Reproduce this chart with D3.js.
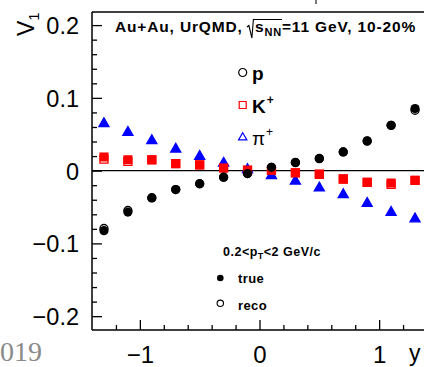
<!DOCTYPE html>
<html>
<head>
<meta charset="utf-8">
<script src="https://cdn.jsdelivr.net/npm/d3@7"></script>
<style>
  html, body { margin: 0; padding: 0; background: #fff; }
  svg { display: block; font-family: "Liberation Sans", Arial, Helvetica, sans-serif; }
</style>
</head>
<body>
<svg id="chart" width="424" height="367"></svg>
<script>
// Rapidity bins (bin centres)
const rapidity = [-1.3, -1.1, -0.9, -0.7, -0.5, -0.3, -0.1, 0.1, 0.3, 0.5, 0.7, 0.9, 1.1, 1.3];

// Directed flow v1(y), UrQMD Au+Au 11 GeV, 10-20%
const protonTrue = [-0.0825, -0.057, -0.0376, -0.026, -0.018, -0.009, -0.004, 0.0045, 0.0115, 0.0168, 0.0257, 0.041, 0.0624, 0.0853];
const protonReco = [-0.0795, -0.0548, -0.0372, -0.026, -0.018, -0.009, -0.004, 0.0045, 0.011, 0.0165, 0.0257, 0.0405, 0.0622, 0.083];
const kaonTrue   = [0.0188, 0.015, 0.015, 0.0096, 0.0078, 0.0037, 0.0005, 0.0004, -0.003, -0.005, -0.0115, -0.016, -0.017, -0.0133];
const kaonReco   = [0.0158, 0.0128, 0.0148, 0.0096, 0.0078, 0.0037, 0.0005, 0.0004, -0.003, -0.005, -0.0115, -0.016, -0.0188, -0.0135];
const pionTrue   = [0.066, 0.054, 0.0426, 0.031, 0.021, 0.0115, 0.0028, -0.0055, -0.013, -0.0225, -0.0316, -0.0436, -0.056, -0.065];
const pionReco   = [0.066, 0.054, 0.0426, 0.031, 0.021, 0.0115, 0.0028, -0.0055, -0.013, -0.0225, -0.0316, -0.0436, -0.056, -0.065];

// Axis ticks
const xMajor = [-1, 0, 1];
const xMinor = [-1.2, -0.8, -0.6, -0.4, -0.2, 0.2, 0.4, 0.6, 0.8, 1.2];
const yMajor = [-0.2, -0.1, 0, 0.1, 0.2];
const yMinor = [-0.18, -0.16, -0.14, -0.12, -0.08, -0.06, -0.04, -0.02, 0.02, 0.04, 0.06, 0.08, 0.12, 0.14, 0.16, 0.18];
const xTickLabels = ["\u22121", "0", "1"];
const yTickLabels = ["\u22120.2", "\u22120.1", "0", "0.1", "0.2"];

const svg = d3.select("#chart");

const x = d3.scaleLinear().domain([-1.4, 1.4]).range([92, 427]);
const y = d3.scaleLinear().domain([-0.219, 0.218]).range([330, 12]);

const RED = "#ff0000", BLUE = "#0000ff", BLACK = "#000";
const SANS = "'Liberation Sans', Arial, Helvetica, sans-serif";

// Frame (left, top, bottom) and zero line
const frame = svg.append("g").attr("stroke", "#000").attr("stroke-width", 1.5).attr("fill", "none");
frame.append("line").attr("x1", x(-1.4)).attr("x2", x(-1.4)).attr("y1", y(0.218)).attr("y2", y(-0.219));
frame.append("line").attr("x1", x(-1.4)).attr("x2", x(1.4)).attr("y1", y(0.218)).attr("y2", y(0.218));
frame.append("line").attr("x1", x(-1.4)).attr("x2", x(1.4)).attr("y1", y(-0.219)).attr("y2", y(-0.219));
svg.append("line").attr("x1", x(-1.4)).attr("x2", x(1.4)).attr("y1", y(0)).attr("y2", y(0))
  .attr("stroke", "#000").attr("stroke-width", 1.3);

// Small stroke above the frame
svg.append("line").attr("x1", 316).attr("x2", 316).attr("y1", 0).attr("y2", 4)
  .attr("stroke", "#222").attr("stroke-width", 1.2);

// Y axis (ticks inside the frame)
const yAxisMajor = d3.axisLeft(y).tickValues(yMajor).tickSizeInner(-10).tickSizeOuter(0)
  .tickPadding(13).tickFormat((d, i) => yTickLabels[i]);
const gy = svg.append("g").attr("transform", `translate(${x(-1.4)},0)`).call(yAxisMajor);
gy.select(".domain").remove();
gy.selectAll("line").attr("stroke", "#000").attr("stroke-width", 1.3);
gy.selectAll("text").attr("font-size", 23.5).attr("fill", "#000").attr("dy", "0.36em")
  .attr("font-family", SANS);

const gyMinor = svg.append("g").attr("transform", `translate(${x(-1.4)},0)`)
  .call(d3.axisLeft(y).tickValues(yMinor).tickSizeInner(-5).tickSizeOuter(0).tickFormat(""));
gyMinor.select(".domain").remove();
gyMinor.selectAll("line").attr("stroke", "#000").attr("stroke-width", 1.3);

// X axis (ticks inside the frame)
const xAxisMajor = d3.axisBottom(x).tickValues(xMajor).tickSizeInner(-10).tickSizeOuter(0)
  .tickPadding(16).tickFormat((d, i) => xTickLabels[i]);
const gx = svg.append("g").attr("transform", `translate(0,${y(-0.219)})`).call(xAxisMajor);
gx.select(".domain").remove();
gx.selectAll("line").attr("stroke", "#000").attr("stroke-width", 1.3);
gx.selectAll("text").attr("font-size", 24).attr("fill", "#000").attr("dy", "0.71em")
  .attr("font-family", SANS);

const gxMinor = svg.append("g").attr("transform", `translate(0,${y(-0.219)})`)
  .call(d3.axisBottom(x).tickValues(xMinor).tickSizeInner(-5).tickSizeOuter(0).tickFormat(""));
gxMinor.select(".domain").remove();
gxMinor.selectAll("line").attr("stroke", "#000").attr("stroke-width", 1.3);

// Axis titles
svg.append("text").attr("x", 409).attr("y", 361).attr("font-size", 23).attr("fill", "#000").text("y");
const yTitle = svg.append("text").attr("transform", "translate(34,36) rotate(-90)")
  .attr("font-size", 23).attr("fill", "#000");
yTitle.append("tspan").text("V");
yTitle.append("tspan").attr("font-size", 15).attr("dy", 5).text("1");

// Year fragment at lower left
svg.append("text").attr("x", -14).attr("y", 361).attr("font-size", 28)
  .style("font-family", "'Liberation Serif', 'Times New Roman', serif").attr("fill", "#8a8a8a").text("2019");

// Marker helpers
const sym = {
  circle: d3.symbol().type(d3.symbolCircle).size(Math.PI * 4.6 * 4.6),
  circleOpen: d3.symbol().type(d3.symbolCircle).size(Math.PI * 4.0 * 4.0),
  square: d3.symbol().type(d3.symbolSquare).size(9 * 9),
  squareOpen: d3.symbol().type(d3.symbolSquare).size(8 * 8),
  triangle: d3.symbol().type(d3.symbolTriangle).size(44),
};

function drawSeries(values, path, color, open, dyOff) {
  svg.append("g").selectAll("path").data(values).join("path")
    .attr("transform", (d, i) => `translate(${x(rapidity[i])},${y(d) + (dyOff || 0)})`)
    .attr("d", path)
    .attr("fill", open ? "none" : color)
    .attr("stroke", color)
    .attr("stroke-width", open ? 1.3 : 0);
}

// Reconstructed (open) under true (filled)
drawSeries(pionReco, sym.triangle, BLUE, true, 1);
drawSeries(kaonReco, sym.squareOpen, RED, true, 0);
drawSeries(protonReco, sym.circleOpen, BLACK, true, 0);
drawSeries(pionTrue, sym.triangle, BLUE, false, 1);
drawSeries(kaonTrue, sym.square, RED, false, 0);
drawSeries(protonTrue, sym.circle, BLACK, false, 0);

// Title with sqrt(s_NN)
const title = svg.append("text").attr("x", 115).attr("y", 32).attr("font-size", 15.5)
  .attr("font-weight", "bold").attr("letter-spacing", 0.85).attr("fill", "#000");
title.append("tspan").text("Au+Au, UrQMD, ");
const rad = title.append("tspan").attr("dx", 7).text("s");
const sub = title.append("tspan").attr("font-size", 11).attr("dy", 4).text("NN");
title.append("tspan").attr("dy", -4).text("=11 GeV, 10-20%");
{
  const b1 = rad.node().getBBox();
  const b2 = sub.node().getBBox();
  const x0 = b1.x - 6, xTop = b1.x - 1.5, xEnd = b2.x + b2.width;
  svg.append("path")
    .attr("d", `M${x0 - 2},${27} L${x0},${25.5} L${x0 + 3},${38} L${xTop},${19.5} L${xEnd},${19.5}`)
    .attr("fill", "none").attr("stroke", "#000").attr("stroke-width", 1.1);
}

// Species legend
const legend = [
  { path: sym.circleOpen, color: BLACK, label: "p", sup: "", y: 72.5, bold: true },
  { path: d3.symbol().type(d3.symbolSquare).size(7 * 7), color: RED, label: "K", sup: "+", y: 105, bold: true },
  { path: d3.symbol().type(d3.symbolTriangle).size(30), color: BLUE, label: "\u03c0", sup: "+", y: 137.5, bold: false },
];
legend.forEach(l => {
  svg.append("path").attr("transform", `translate(242.7,${l.y})`).attr("d", l.path)
    .attr("fill", "none").attr("stroke", l.color).attr("stroke-width", 1.2);
  const t = svg.append("text").attr("x", 252).attr("y", l.y + 7.5).attr("font-size", 19)
    .attr("font-weight", l.bold ? "bold" : "normal").attr("fill", "#000");
  t.append("tspan").text(l.label);
  if (l.sup) t.append("tspan").attr("font-size", 12).attr("dy", -9).attr("dx", 1).text(l.sup);
});

// pT range and true/reco legend
const pt = svg.append("text").attr("x", 223).attr("y", 255.5).attr("font-size", 12.5)
  .attr("font-weight", "bold").attr("letter-spacing", 0.5).attr("fill", "#000");
pt.append("tspan").text("0.2<p");
pt.append("tspan").attr("font-size", 9).attr("dy", 3).text("T");
pt.append("tspan").attr("dy", -3).text("<2 GeV/c");

svg.append("circle").attr("cx", 220.3).attr("cy", 278).attr("r", 3.3).attr("fill", "#000");
svg.append("text").attr("x", 238).attr("y", 283).attr("font-size", 13).attr("font-weight", "bold")
  .attr("letter-spacing", 0.4).text("true");
svg.append("circle").attr("cx", 220.3).attr("cy", 303.3).attr("r", 3.2).attr("fill", "none")
  .attr("stroke", "#000").attr("stroke-width", 1.1);
svg.append("text").attr("x", 238).attr("y", 309.5).attr("font-size", 13).attr("font-weight", "bold")
  .attr("letter-spacing", 0.4).text("reco");
</script>
</body>
</html>
